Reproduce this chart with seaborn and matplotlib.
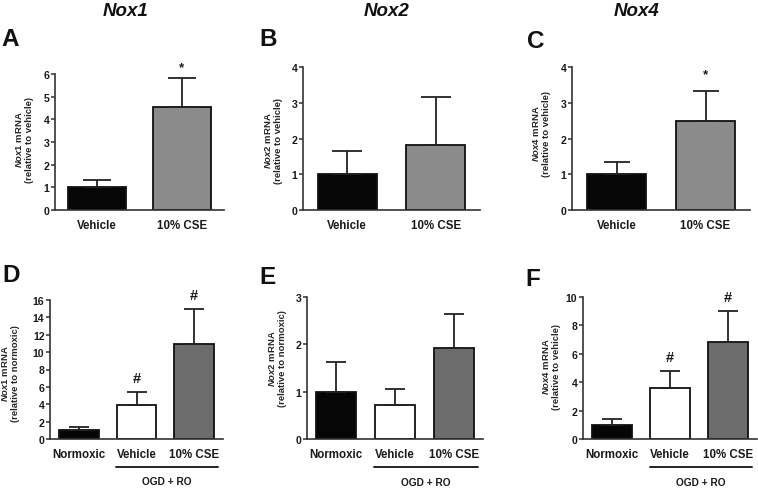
import matplotlib
matplotlib.use("Agg")
import matplotlib.pyplot as plt
import matplotlib.transforms as mtransforms
import seaborn as sns
import pandas as pd

sns.set_theme(style="ticks")
plt.rcParams['font.family'] = ['Liberation Sans', 'DejaVu Sans']
plt.rcParams['font.weight'] = 'bold'
plt.rcParams['mathtext.fontset'] = 'custom'
plt.rcParams['mathtext.it'] = 'Liberation Sans:italic:bold'
plt.rcParams['mathtext.rm'] = 'Liberation Sans:bold'
plt.rcParams['mathtext.bf'] = 'Liberation Sans:bold'

# ---------------- data ----------------
genes = ["Nox1", "Nox2", "Nox4"]
top_groups = ["Vehicle", "10% CSE"]
bottom_groups = ["Normoxic", "Vehicle", "10% CSE"]
bottom_bracket_label = "OGD + RO"

nox1_top_mean = [1.0, 4.54]
nox1_top_err = [0.33, 1.28]
nox2_top_mean = [1.0, 1.83]
nox2_top_err = [0.64, 1.32]
nox4_top_mean = [1.0, 2.49]
nox4_top_err = [0.33, 0.83]

nox1_bot_mean = [1.0, 3.96, 10.88]
nox1_bot_err = [0.38, 1.50, 4.08]
nox2_bot_mean = [1.0, 0.71, 1.92]
nox2_bot_err = [0.63, 0.34, 0.73]
nox4_bot_mean = [1.0, 3.58, 6.86]
nox4_bot_err = [0.39, 1.21, 2.13]

# significance symbols per bar ('' = none)
nox1_top_sig = ["", "*"]
nox2_top_sig = ["", ""]
nox4_top_sig = ["", "*"]
nox1_bot_sig = ["", "#", "#"]
nox2_bot_sig = ["", "", ""]
nox4_bot_sig = ["", "#", "#"]

top_colors = ["#060606", "#8b8b8b"]
bot_colors = ["#060606", "#ffffff", "#6c6c6c"]

W, H = 758, 489
fig = plt.figure(figsize=(W / 100, H / 100), dpi=100)


def add_ax(l, r, t, b):
    return fig.add_axes([l / W, 1 - b / H, (r - l) / W, (b - t) / H])


def panel(ax, groups, means, errs, sigs, colors, ymax, ystep, gene, ref,
          width, cap, lab_right_px, lab_y, sig_off, bracket=False):
    df = pd.DataFrame({"group": groups, "value": means})
    sns.barplot(data=df, x="group", y="value", hue="group", order=groups,
                hue_order=groups, palette=colors, legend=False, width=width,
                edgecolor="#111111", linewidth=1.3, errorbar=None,
                saturation=1, ax=ax)
    n = len(groups)
    ax.errorbar(list(range(n)), means, yerr=[[0] * n, errs], fmt="none",
                ecolor="#222222", elinewidth=1.3, capsize=cap, capthick=1.3,
                zorder=1)
    ax.set_xlim(-0.5, n - 0.5)
    ax.set_ylim(0, ymax)
    ticks = [ystep * i for i in range(int(round(ymax / ystep)) + 1)]
    ax.set_yticks(ticks)
    ax.set_yticklabels([f"{t:g}" for t in ticks])
    ax.set_xlabel("")
    ax.set_ylabel(f"$\\mathit{{{gene}}}$ mRNA\n(relative to {ref})",
                  fontsize=6.8, fontweight="bold", linespacing=1.1)
    ax.yaxis.set_label_coords(lab_right_px / W, 1 - lab_y / H,
                              transform=fig.transFigure)
    sns.despine(ax=ax)
    for s in ("left", "bottom"):
        ax.spines[s].set_linewidth(1.2)
        ax.spines[s].set_color("#333333")
    ax.tick_params(axis="y", length=3, width=1.1, color="#333333",
                   labelsize=7.6, pad=1)
    ax.tick_params(axis="x", length=0, labelsize=8.3, pad=6.5)
    for lbl in ax.get_xticklabels() + ax.get_yticklabels():
        lbl.set_fontweight("bold")
        lbl.set_color("#1a1a1a")
    for i, s in enumerate(sigs):
        if s:
            ax.annotate(s, (i, means[i] + errs[i]), xytext=(0, sig_off),
                        textcoords="offset points", ha="center",
                        va="center", fontsize=10.5 if s == "#" else 9.5,
                        fontweight="bold", annotation_clip=False,
                        color="#1a1a1a")
    if bracket:
        tr = mtransforms.blended_transform_factory(ax.transData, ax.transAxes)
        ax.plot([0.65, 2.41], [-0.2, -0.2], transform=tr, clip_on=False,
                color="#222222", lw=1.4)
        ax.text(1.53, -0.305, bottom_bracket_label, transform=tr,
                ha="center", va="center", fontsize=7.3, fontweight="bold",
                color="#1a1a1a")


axA = add_ax(55, 224, 75, 211)
axB = add_ax(303, 480, 68, 211)
axC = add_ax(572, 750, 68, 211)
axD = add_ax(50, 223, 301, 440)
axE = add_ax(307, 483, 298, 440)
axF = add_ax(583, 757, 298, 440)

panel(axA, top_groups, nox1_top_mean, nox1_top_err, nox1_top_sig, top_colors,
      6, 1, genes[0], "vehicle", 0.69, 10, 34, 140, 8)
panel(axB, top_groups, nox2_top_mean, nox2_top_err, nox2_top_sig, top_colors,
      4, 1, genes[1], "vehicle", 0.67, 10.5, 283, 141, 8)
panel(axC, top_groups, nox4_top_mean, nox4_top_err, nox4_top_sig, top_colors,
      4, 1, genes[2], "vehicle", 0.67, 9.5, 551, 134, 12)
panel(axD, bottom_groups, nox1_bot_mean, nox1_bot_err, nox1_bot_sig,
      bot_colors, 16, 2, genes[0], "normoxic", 0.69, 7, 20, 374, 10,
      bracket=True)
panel(axE, bottom_groups, nox2_bot_mean, nox2_bot_err, nox2_bot_sig,
      bot_colors, 3, 1, genes[1], "normoxic", 0.68, 7, 287, 359, 10,
      bracket=True)
panel(axF, bottom_groups, nox4_bot_mean, nox4_bot_err, nox4_bot_sig,
      bot_colors, 10, 2, genes[2], "vehicle", 0.68, 7, 561, 367, 10,
      bracket=True)

for g, x in zip(genes, [126, 387, 637]):
    fig.text(x / W, 1 - 12 / H, g, ha="center", va="center", fontsize=13.5,
             fontweight="bold", fontstyle="italic", color="#111111")

for letter, x, y in [("A", 1, 40), ("B", 259, 40), ("C", 527, 41),
                     ("D", 2, 275), ("E", 259, 278), ("F", 525, 279)]:
    fig.text(x / W, 1 - y / H, letter, ha="left", va="center", fontsize=17.5,
             fontweight="bold", color="#111111")

fig.savefig("out.png", dpi=100)
